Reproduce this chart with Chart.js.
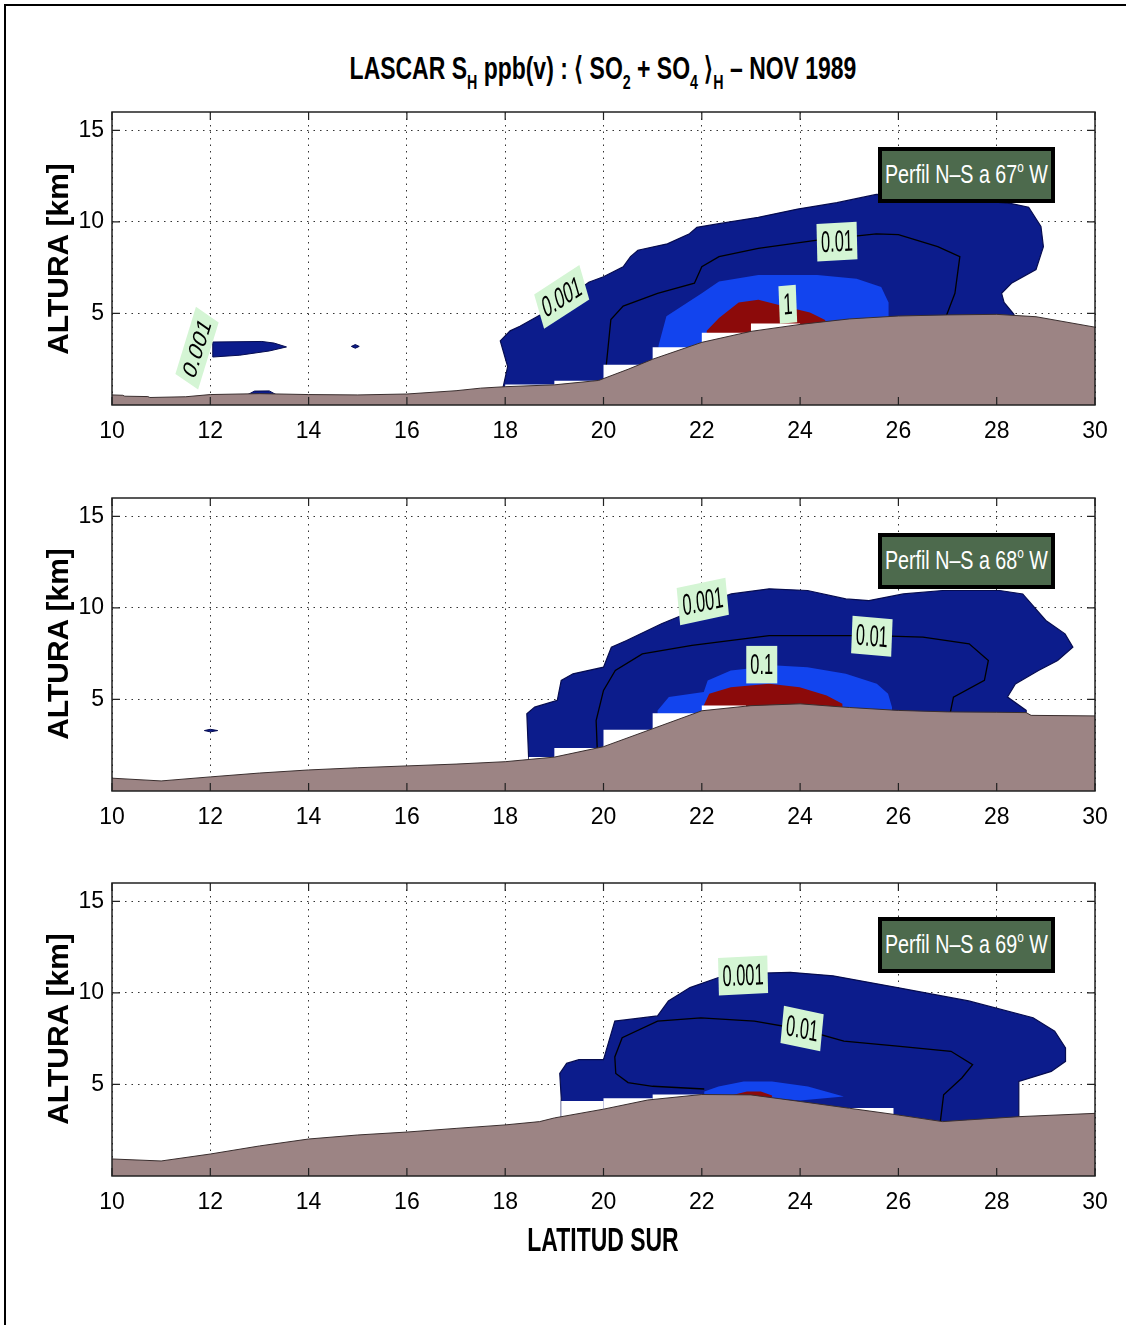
<!DOCTYPE html>
<html><head><meta charset="utf-8">
<script src="https://cdn.jsdelivr.net/npm/chart.js@4.4.1/dist/chart.umd.min.js"></script>
<style>
html,body{margin:0;padding:0;background:#fff;}
body{width:1126px;height:1325px;position:relative;overflow:hidden;font-family:"Liberation Sans",Arial,sans-serif;color:#000;}
#frame{position:absolute;left:4px;top:4px;width:1140px;height:1340px;border-left:2px solid #000;border-top:2px solid #000;}
canvas{position:absolute;left:0;}
.title{position:absolute;left:603px;top:69px;font-weight:bold;font-size:28px;line-height:1;white-space:nowrap;transform:translate(-50%,-50%) scaleX(0.82) scaleY(1.12);}
.title sub{font-size:62%;vertical-align:-0.5em;line-height:0;}
.ylab{position:absolute;left:58px;font-weight:bold;font-size:30px;line-height:1;white-space:nowrap;transform:translate(-50%,-50%) rotate(-90deg);}
.xlab{position:absolute;left:603px;top:1240px;font-weight:bold;font-size:28px;line-height:1;white-space:nowrap;transform:translate(-50%,-50%) scaleX(0.82) scaleY(1.2);}
.legend{position:absolute;left:878px;width:177px;height:56px;box-sizing:border-box;border:4px solid #000;background:#4d6a4d;color:#fff;font-size:24px;display:flex;align-items:center;justify-content:center;white-space:nowrap;}
.legend span{display:inline-block;transform:scaleX(0.82) scaleY(1.06);}
.legend sup{font-size:60%;vertical-align:0.75em;line-height:0;}
</style>
</head><body>
<div id="frame"></div>
<div class="title">LASCAR S<sub>H</sub> ppb(v) : ⟨ SO<sub>2</sub> + SO<sub>4</sub> ⟩<sub>H</sub> – NOV 1989</div>
<canvas id="c1" width="1126" height="360" style="top:100px"></canvas>
<canvas id="c2" width="1126" height="360" style="top:486px"></canvas>
<canvas id="c3" width="1126" height="360" style="top:871px"></canvas>
<div class="ylab" style="top:259px">ALTURA [km]</div>
<div class="ylab" style="top:644px">ALTURA [km]</div>
<div class="ylab" style="top:1029px">ALTURA [km]</div>
<div class="xlab">LATITUD SUR</div>
<div class="legend" style="top:147px"><span>Perfil N–S a 67<sup>o</sup> W</span></div>
<div class="legend" style="top:533px"><span>Perfil N–S a 68<sup>o</sup> W</span></div>
<div class="legend" style="top:917px"><span>Perfil N–S a 69<sup>o</sup> W</span></div>
<script>
// ---------- axes ----------
const xTicks = [10,12,14,16,18,20,22,24,26,28,30];
const yTicks = [5,10,15];

// ---------- Perfil 67° W ----------
const terrain67 = [[10,0.55],[10.22,0.53],[10.26,0.48],[10.73,0.46],[10.77,0.41],[11.5,0.45],[12,0.57],[13,0.62],[14,0.57],[15,0.55],[16,0.6],[17,0.78],[17.5,0.92],[18,1.0],[19,1.1],[19.9,1.34],[20.5,1.95],[21,2.5],[22,3.42],[23,4.02],[24,4.4],[25,4.7],[26,4.86],[27,4.92],[28,4.95],[28.8,4.82],[30,4.25]];
const dark67 = [[17.96,0.2],[17.96,1.0],[18.05,2.1],[17.9,3.5],[18.1,4.05],[18.3,4.3],[18.7,4.9],[19.1,5.6],[19.5,6.3],[19.7,6.7],[20.0,7.0],[20.4,7.55],[20.55,8.1],[20.7,8.45],[21.3,8.8],[21.75,9.35],[21.9,9.7],[22.35,9.9],[23.15,10.25],[23.95,10.7],[24.75,11.05],[25.55,11.5],[26.5,11.4],[27.5,11.2],[28.3,11.0],[28.65,10.8],[28.9,9.75],[28.95,8.65],[28.8,7.4],[28.3,6.65],[28.1,6.1],[28.15,5.6],[28.35,4.95],[28.4,4.0],[28.4,0.2]];
const line67 = [[20.02,1.2],[20.15,4.67],[20.4,5.4],[21.1,6.1],[21.85,6.65],[22.0,7.55],[22.35,8.1],[23.15,8.55],[24.35,9.0],[25.55,9.35],[26.0,9.3],[26.8,8.65],[27.25,8.1],[27.15,6.1],[26.95,4.7]];
const bright67 = [[21.1,0.2],[21.12,3.25],[21.28,4.85],[22.0,6.1],[22.35,6.75],[23.15,7.1],[24.35,7.1],[25.15,6.9],[25.65,6.45],[25.8,5.6],[25.8,4.6],[25.8,0.2]];
const red67 = [[22.1,0.2],[22.1,4.05],[22.35,4.75],[22.75,5.6],[23.15,5.75],[23.65,5.4],[24.2,5.05],[24.5,4.65],[24.6,4.3],[24.6,0.2]];
const blob67a = [[12.05,2.62],[12.05,3.44],[13.05,3.47],[13.3,3.38],[13.55,3.17],[13.2,2.95],[12.6,2.72]];
const blob67b = [[14.87,3.2],[14.95,3.3],[15.03,3.2],[14.95,3.1]];
const blob67c = [[12.75,0.55],[12.9,0.76],[13.2,0.77],[13.35,0.55]];
const gaps67 = [[18.0,19.0,1.12],[19.0,20.0,1.32],[20.0,21.0,2.2],[21.0,22.0,3.15],[22.0,23.0,3.95],[23.0,24.0,4.45]];
const labels67 = [[11.73,3.1,'0.001',-73],[19.15,5.9,'0.001',-33],[24.75,8.92,'0.01',-3],[23.75,5.5,'1',-5]];

// ---------- Perfil 68° W ----------
const terrain68 = [[10,0.7],[11,0.55],[12,0.77],[13,0.98],[14,1.15],[15,1.27],[16,1.37],[17,1.47],[18,1.6],[19,1.85],[20,2.42],[21,3.4],[22,4.38],[23,4.66],[24,4.76],[25,4.56],[26,4.4],[27,4.32],[28,4.3],[28.6,4.28],[28.7,4.13],[30,4.1]];
const dark68 = [[18.48,0.2],[18.48,1.6],[18.44,4.22],[18.6,4.58],[19.06,4.95],[19.14,6.04],[19.38,6.4],[20.0,6.76],[20.16,7.85],[20.47,8.22],[21.18,9.13],[21.6,9.6],[22.0,10.2],[22.6,10.76],[23.37,11.04],[24.15,10.95],[24.93,10.49],[25.4,10.4],[26.1,10.76],[26.9,10.95],[28.06,10.95],[28.53,10.76],[29.0,9.31],[29.39,8.58],[29.55,7.85],[29.24,7.13],[28.85,6.58],[28.38,5.85],[28.22,5.13],[28.6,4.4],[28.6,0.2]];
const line68 = [[19.88,1.8],[19.85,3.85],[20.0,5.49],[20.24,6.58],[20.79,7.49],[21.8,7.95],[23.37,8.49],[25.48,8.49],[26.5,8.4],[27.44,8.04],[27.83,7.13],[27.75,6.04],[27.12,5.13],[27.05,4.2]];
const bright68 = [[21.1,0.2],[21.1,4.4],[21.33,5.13],[22.04,5.4],[22.12,6.04],[22.59,6.58],[23.52,6.85],[24.15,6.76],[24.93,6.4],[25.56,5.85],[25.79,5.31],[25.87,4.58],[25.87,0.2]];
const red68 = [[22.04,0.2],[22.04,4.67],[22.15,5.31],[22.59,5.67],[23.37,5.85],[23.99,5.67],[24.54,5.22],[24.86,4.76],[24.9,0.2]];
const blob68a = [[11.88,3.3],[12.0,3.37],[12.15,3.3],[12.0,3.23]];
const gaps68 = [[18.48,19.0,1.85],[19.0,20.0,2.35],[20.0,21.0,3.35],[21.0,22.0,4.25],[22.0,22.9,4.67]];
const labels68 = [[22.02,10.35,'0.001',-12],[25.46,8.45,'0.01',5],[23.22,6.9,'0.1',0]];

// ---------- Perfil 69° W ----------
const terrain69 = [[10,0.93],[11,0.82],[12,1.2],[13,1.64],[14,2.02],[15,2.24],[16,2.4],[17,2.6],[18,2.79],[18.7,2.97],[19,3.17],[20,3.65],[20.9,4.15],[22,4.45],[23,4.43],[24,4.07],[25,3.7],[26,3.33],[26.9,2.97],[27.4,3.06],[28.45,3.24],[30,3.42]];
const dark69 = [[19.14,0.2],[19.14,4.25],[19.11,5.6],[19.25,6.15],[19.5,6.35],[20.0,6.35],[20.23,8.46],[20.52,8.55],[21.1,8.74],[21.32,9.56],[21.76,10.29],[22.34,10.84],[22.85,11.05],[23.8,11.12],[24.67,10.93],[25.98,10.29],[27.43,9.56],[28.74,8.64],[29.18,7.91],[29.4,7.0],[29.4,6.26],[29.11,5.71],[28.45,5.16],[28.45,0.2]];
const line69 = [[22.05,4.75],[21.0,4.9],[20.5,5.1],[20.25,5.6],[20.23,6.5],[20.38,7.55],[21.1,8.46],[21.98,8.64],[23.07,8.46],[24.05,8.0],[24.89,7.36],[25.98,7.09],[27.07,6.81],[27.51,6.08],[27.29,5.35],[26.92,4.43],[26.85,2.9]];
const bright69 = [[22.05,4.45],[22.05,4.62],[22.34,4.89],[22.85,5.16],[23.43,5.16],[24.16,4.89],[24.89,4.34],[24.0,4.12],[23.0,4.35]];
const red69 = [[22.63,4.3],[22.63,4.43],[22.92,4.61],[23.2,4.61],[23.43,4.4],[23.43,4.3]];
const gaps69 = [[19.14,20.0,4.1],[20.0,21.0,4.25],[21.0,22.0,4.45],[24.9,25.9,3.72]];
const labels69 = [[22.84,10.95,'0.001',-3],[24.04,8.05,'0.01',12]];

// ---------- styling ----------
const SANS = '"Liberation Sans",Arial,sans-serif';
const C = {terrain:'#9c8484', terrainEdge:'#3a2e2e', dark:'#0c1c8c', darkEdge:'#060c50', bright:'#1244ee', red:'#8c0a0a', label:'#d4f5d4', gap:'#ffffff'};
const NONE = 'rgba(0,0,0,0)';
const STRETCH = 1.5, NARROW = 0.82;

function pts(a){ return a.map(p => ({x:p[0], y:p[1]})); }
function poly(a, fillColor, edge, w){
  const closed = a.concat([a[0]]);
  return {data: pts(closed), fill:'shape', backgroundColor: fillColor, borderColor: edge || NONE, borderWidth: w || 1, pointRadius:0, tension:0};
}
function rect(g){ return [[g[0],0],[g[1],0],[g[1],g[2]],[g[0],g[2]]]; }

const framePlugin = {
  id:'frame',
  afterDatasetsDraw(chart){
    const {ctx, chartArea:a, scales} = chart;
    ctx.save();
    ctx.strokeStyle = '#222'; ctx.lineWidth = 1.5;
    ctx.strokeRect(a.left, a.top, a.right - a.left, a.bottom - a.top);
    ctx.lineWidth = 1.2; ctx.beginPath();
    yTicks.forEach(v => { const py = scales.y.getPixelForValue(v);
      ctx.moveTo(a.left, py); ctx.lineTo(a.left + 8, py);
      ctx.moveTo(a.right, py); ctx.lineTo(a.right - 8, py); });
    xTicks.forEach(v => { const px = scales.x.getPixelForValue(v);
      ctx.moveTo(px, a.bottom); ctx.lineTo(px, a.bottom - 8);
      ctx.moveTo(px, a.top); ctx.lineTo(px, a.top + 8); });
    ctx.stroke();
    ctx.restore();
  }
};
const labelPlugin = {
  id:'clabels',
  afterDatasetsDraw(chart, args, opts){
    const {ctx, scales} = chart;
    (opts.items || []).forEach(it => {
      const px = scales.x.getPixelForValue(it[0]), py = scales.y.getPixelForValue(it[1]);
      const theta = Math.atan(Math.tan(it[3] * Math.PI / 180) / STRETCH);
      ctx.save();
      ctx.translate(px, py);
      ctx.scale(1, STRETCH);
      ctx.rotate(theta);
      ctx.scale(NARROW, 1);
      ctx.font = '20px ' + SANS;
      const w = ctx.measureText(it[2]).width + 10, h = 25;
      ctx.fillStyle = C.label;
      ctx.fillRect(-w/2, -h/2, w, h);
      ctx.fillStyle = '#000'; ctx.textAlign = 'center'; ctx.textBaseline = 'middle';
      ctx.fillText(it[2], 0, 1);
      ctx.restore();
    });
  }
};

function makePanel(id, terrain, dark, line, bright, red, blobs, gaps, labels){
  // listed top-most first
  const ds = [];
  ds.push({data: pts(terrain), fill:'start', backgroundColor:C.terrain, borderColor:C.terrainEdge, borderWidth:1, pointRadius:0, tension:0});
  gaps.forEach(g => ds.push(poly(rect(g), C.gap)));
  ds.push(poly(red, C.red));
  ds.push(poly(bright, C.bright));
  blobs.forEach(b => ds.push(poly(b, C.dark, C.darkEdge, 1)));
  ds.push({data: pts(line), fill:false, borderColor:'#000', borderWidth:1.3, pointRadius:0, tension:0});
  ds.push(poly(dark, C.dark, C.darkEdge, 1.2));
  ds.forEach((d, i) => d.order = i);

  const tickFont = {family: SANS, size: 23};
  new Chart(document.getElementById(id), {
    type:'line',
    data:{datasets: ds},
    options:{
      responsive:false, animation:false, events:[],
      layout:{padding:{top:12, right:31, left:0, bottom:0}},
      plugins:{legend:{display:false}, tooltip:{enabled:false}, clabels:{items: labels}},
      scales:{
        x:{type:'linear', min:10, max:30,
           afterBuildTicks: s => { s.ticks = xTicks.map(v => ({value:v})); },
           afterFit: s => { s.height = 55; s.paddingLeft = 0; s.paddingRight = 0; },
           grid:{color:'#333', lineWidth:1, drawTicks:false},
           border:{display:false, dash:[1.5,5]},
           ticks:{font: tickFont, color:'#000', padding:13, maxRotation:0, autoSkip:false}},
        y:{type:'linear', min:0, max:16,
           afterBuildTicks: s => { s.ticks = yTicks.map(v => ({value:v})); },
           afterFit: s => { s.width = 112; s.paddingTop = 0; s.paddingBottom = 0; },
           grid:{color:'#333', lineWidth:1, drawTicks:false},
           border:{display:false, dash:[1.5,5]},
           ticks:{font: tickFont, color:'#000', padding:8}}
      }
    },
    plugins:[framePlugin, labelPlugin]
  });
}

makePanel('c1', terrain67, dark67, line67, bright67, red67, [blob67a, blob67b, blob67c], gaps67, labels67);
makePanel('c2', terrain68, dark68, line68, bright68, red68, [blob68a], gaps68, labels68);
makePanel('c3', terrain69, dark69, line69, bright69, red69, [], gaps69, labels69);
</script>
</body></html>
